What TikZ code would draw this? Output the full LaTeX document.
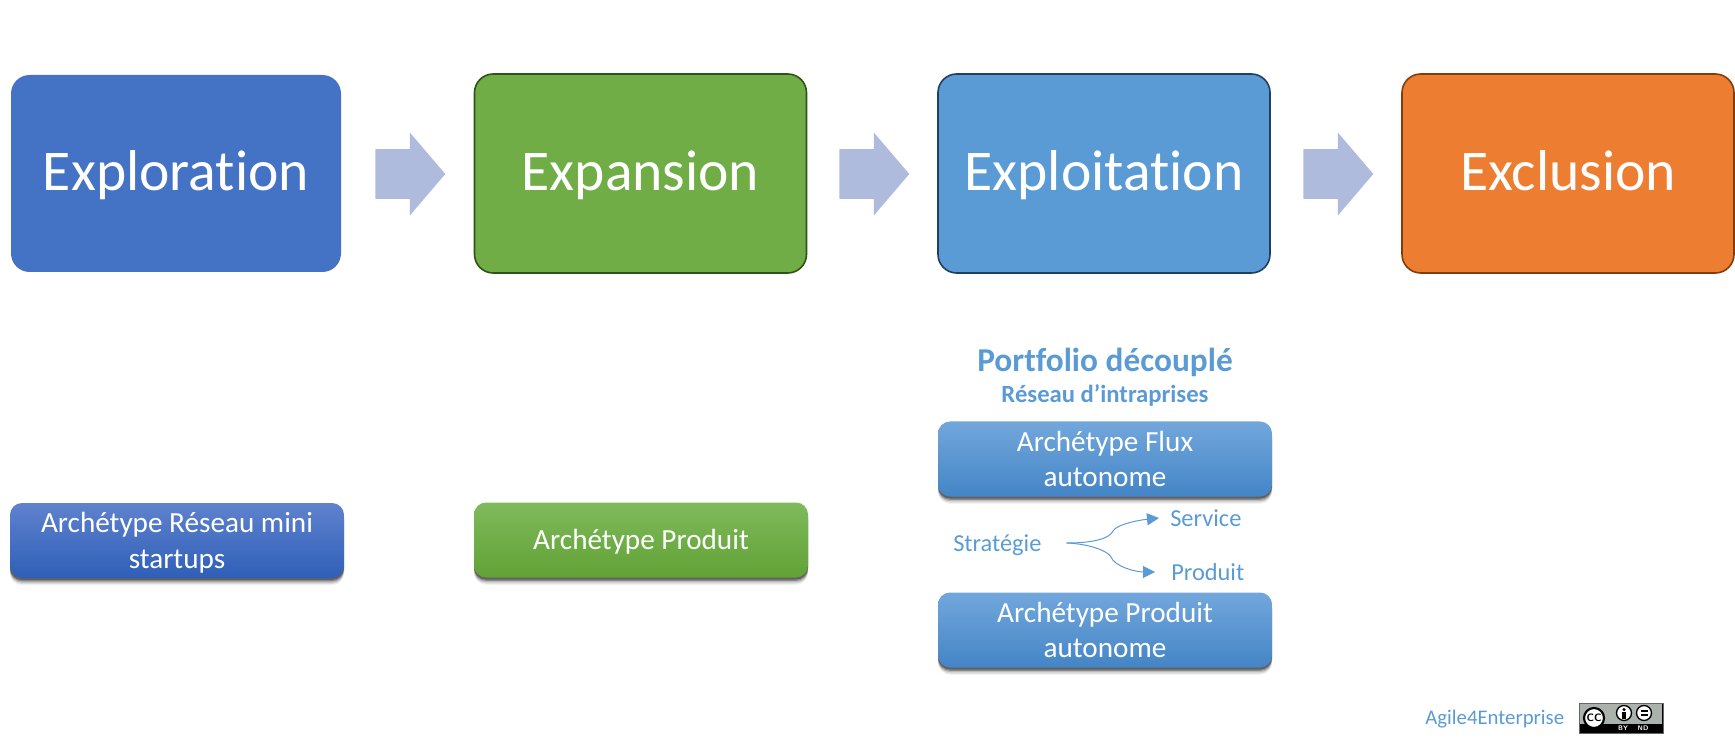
\documentclass[tikz,border=0pt]{standalone}
\usepackage{fontspec}
\setmainfont[Ligatures=NoCommon]{Carlito}
\usetikzlibrary{shapes.arrows,shadows,arrows.meta}
\definecolor{cA}{HTML}{4472C4}
\definecolor{cB}{HTML}{70AD47}
\definecolor{cC}{HTML}{5B9BD5}
\definecolor{cD}{HTML}{ED7D31}
\definecolor{bB}{HTML}{2F5218}
\definecolor{bC}{HTML}{1F3F60}
\definecolor{bD}{HTML}{843C0C}
\definecolor{arr}{HTML}{AFBBDD}
\definecolor{topA}{HTML}{5F82CE}
\definecolor{botA}{HTML}{2F5FB8}
\definecolor{topB}{HTML}{7FBA5C}
\definecolor{botB}{HTML}{61A235}
\definecolor{topC}{HTML}{72A7DC}
\definecolor{botC}{HTML}{4485C6}
\definecolor{ccgrey}{HTML}{AAB2AB}
\newcommand{\fsz}[1]{\fontsize{#1}{#1}\selectfont}
\newcommand{\twol}[2]{\rule{0pt}{20pt}#1\\[5pt]#2\rule[-5pt]{0pt}{5pt}}
\newlength{\pxu}\setlength{\pxu}{0.75pt}
\tikzset{
  phase/.style={rectangle,rounded corners=14pt,inner sep=0pt,minimum width=330\pxu,minimum height=197\pxu,text=white,font=\fsz{43.2},text height=32.5pt,text depth=6.3pt},
  edged/.style={line width=1.2pt,minimum width=332\pxu,minimum height=199\pxu},
  blockarrow/.style={shape=single arrow,fill=arr,draw=none,inner xsep=0pt,inner ysep=18.4pt,minimum height=52.5pt,
     single arrow head extend=12.4pt,single arrow tip angle=99,single arrow head indent=0pt,anchor=tail},
  softshadow/.style={
     general shadow={shadow xshift=0pt,shadow yshift=-5.5pt,fill=black,opacity=.05},
     general shadow={shadow xshift=0pt,shadow yshift=-4.5pt,fill=black,opacity=.10,scale=1.004},
     general shadow={shadow xshift=0pt,shadow yshift=-3.5pt,fill=black,opacity=.15,scale=1.004},
     general shadow={shadow xshift=0pt,shadow yshift=-2.5pt,fill=black,opacity=.25,scale=1.003},
     general shadow={shadow xshift=0pt,shadow yshift=-1.5pt,fill=black,opacity=.30}},
  arch/.style={rectangle,rounded corners=9pt,inner sep=0pt,minimum width=334\pxu,minimum height=75\pxu,text=white,
     align=center,font=\fsz{21.9},softshadow,shading=axis,shading angle=0},
  oneline/.style={text height=18pt,text depth=4.5pt},
  lbl/.style={text=cC,inner sep=0pt,font=\fsz{18.3}},
  branch/.style={draw=cC,line width=.75pt,-{Triangle[length=9pt,width=9pt]}},
  badge/.style={circle,fill=white,draw=black,inner sep=0pt},
  badgetxt/.style={inner sep=0pt,text=white,font=\fontsize{5}{5}\bfseries\selectfont\sffamily},
}
\begin{document}
\begin{tikzpicture}[x=0.75pt,y=-0.75pt]
\useasboundingbox (0,0) rectangle (1735,748);
% phases
\node[phase,fill=cA] (exploration) at (176,173.5) {Exploration};
\node[phase,edged,fill=cB,draw=bB] (expansion) at (640.5,173.5) {Expansion};
\node[phase,edged,fill=cC,draw=bC] (exploitation) at (1104,173.5) {Exploitation};
\node[phase,edged,fill=cD,draw=bD] (exclusion) at (1568,173.5) {Exclusion};
% block arrows
\node[blockarrow] (a1) at (375,174) {};
\node[blockarrow] (a2) at (839,174) {};
\node[blockarrow] (a3) at (1303,174) {};
% archetypes
\node[arch,top color=topA,bottom color=botA] (reseau) at (177,540.5) {\twol{Archétype Réseau mini}{startups}};
\node[arch,oneline,top color=topB,bottom color=botB] (produit) at (641,540) {Archétype Produit};
\node[arch,top color=topC,bottom color=botC] (flux) at (1105,459) {\twol{Archétype Flux}{autonome}};
\node[arch,top color=topC,bottom color=botC] (pauto) at (1105,630) {\twol{Archétype Produit}{autonome}};
% headings
\node[lbl,font=\fsz{25}\bfseries] (portfolio) at (1105,362) {Portfolio découplé};
\node[lbl,font=\fsz{18.5}\bfseries] (rintra) at (1105,395) {Réseau d’intraprises};
% strategy
\node[lbl,anchor=west] (strategie) at (953,545) {Stratégie};
\node[lbl,anchor=west] (service) at (1170,518) {Service};
\node[lbl,anchor=west] (prod) at (1171,572) {Produit};
\coordinate (fork) at ([xshift=25\pxu,yshift=1.5pt]strategie.east);
\path[branch] (fork) .. controls (1095,543) and (1110,538) .. (1113,531)
   .. controls (1117,524) and (1140,520) .. ([xshift=-11\pxu]service.west);
\path[branch] (fork) .. controls (1090,544) and (1108,551) .. (1111,557)
   .. controls (1114,566) and (1135,572) .. ([xshift=-16\pxu]prod.west);
% footer
\node[lbl,anchor=west,font=\fsz{15.6}] (agile) at (1425,719) {Agile4Enterprise};
\node[rectangle,fill=black,draw=black!60,line width=.5pt,minimum width=84\pxu,minimum height=30\pxu,inner sep=0pt] (cc) at (1621,718) {};
\fill[ccgrey] (1580,704) rectangle (1662,724);
\node[badge,line width=1.6pt,minimum size=20\pxu,font=\fontsize{8}{8}\bfseries\selectfont\sffamily] (cclogo) at (1594,718) {CC};
\node[badge,line width=1pt,minimum size=15\pxu] (bylogo) at (1624,713) {};
\node[badge,line width=1pt,minimum size=15\pxu] (ndlogo) at (1644,713) {};
\fill[black] (1624,709.5) circle (1.3pt);
\fill[black] (1622,711.5) rectangle (1626,719);
\fill[black] (1640.5,710) rectangle (1647.5,712);
\fill[black] (1640.5,714) rectangle (1647.5,716);
\node[badgetxt] (bytxt) at (1623,728.5) {BY};
\node[badgetxt] (ndtxt) at (1643,728.5) {ND};
\end{tikzpicture}
\end{document}
